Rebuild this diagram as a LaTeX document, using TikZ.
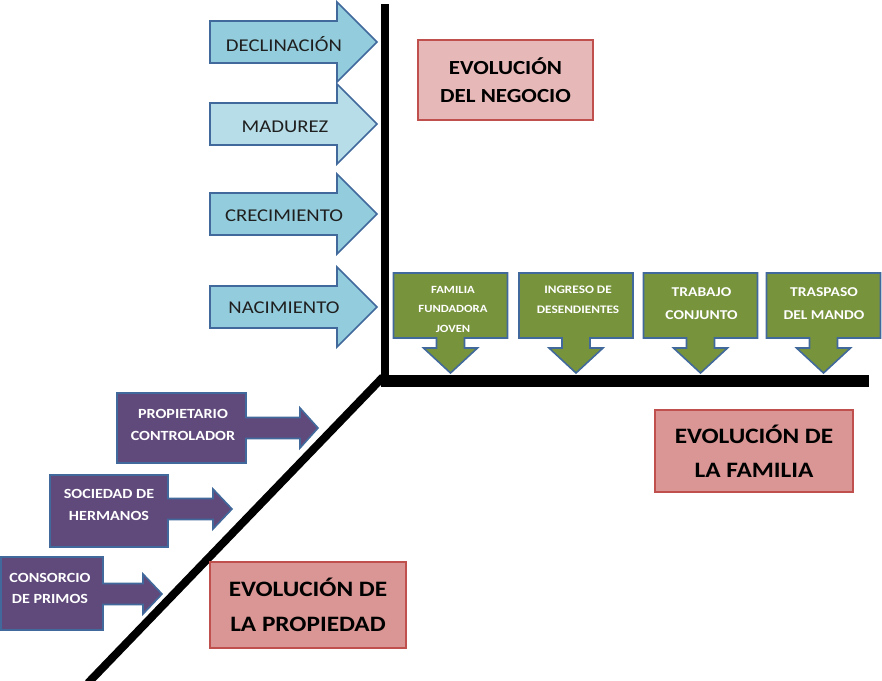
\documentclass[tikz,border=0pt]{standalone}
\usepackage{fontspec}
\setmainfont{Carlito}[FakeStretch=1.15]

\definecolor{phaseblue}{HTML}{93CDDD}
\definecolor{phasebluelight}{HTML}{B7DEE8}
\definecolor{shapeedge}{HTML}{41699C}
\definecolor{stagegreen}{HTML}{77933C}
\definecolor{ownerpurple}{HTML}{604A7B}
\definecolor{titlepink}{HTML}{D99694}
\definecolor{titlepinklight}{HTML}{E6B9B8}
\definecolor{titleedge}{HTML}{C0504D}

\tikzset{
  shapeline/.style={draw=shapeedge, line width=1.6pt, line join=miter},
  vaxis/.style={draw=black, line width=8pt},
  haxis/.style={draw=black, line width=12pt},
  phasetext/.style={anchor=base, inner sep=0pt, text=black!88,
    font=\fontsize{18}{21}\selectfont},
  % multi-line nodes: the base anchor sits on the last line's baseline
  stagetext/.style={anchor=base, inner sep=0pt, align=center, text=white},
  ownertext/.style={anchor=base, inner sep=0pt, align=center, text=white,
    font=\bfseries\fontsize{14}{22}\selectfont},
  titlebox/.style={draw=titleedge, line width=1.6pt, fill=titlepink,
    align=center, inner sep=0pt},
}

\begin{document}
\begin{tikzpicture}[x=1pt, y=-1pt]
\useasboundingbox (0,0) rectangle (882,680);

% ---- axes ----
\coordinate (corner) at (385,381);
\coordinate (bizend) at (385,4);
\coordinate (famstart) at (381,381);
\coordinate (famend) at (869,381);
\coordinate (ownstart) at (383,377);
\coordinate (ownend) at (88,683);
\draw[vaxis] (bizend) -- (corner);
\draw[haxis] (famstart) -- (famend);
\draw[vaxis] (ownstart) -- (ownend);

% ---- business phases: block arrows pointing at the vertical axis ----
\foreach \yc/\col in {42/phaseblue, 124/phasebluelight, 214/phaseblue, 307/phaseblue}{
  \draw[shapeline, fill=\col]
    (210,\yc-21) -- (337,\yc-21) -- (337,\yc-40) -- (377,\yc)
    -- (337,\yc+40) -- (337,\yc+21) -- (210,\yc+21) -- cycle;
}
\node[phasetext] (declinacion) at (284,51)  {DECLINACIÓN};
\node[phasetext] (madurez)     at (285,132) {MADUREZ};
\node[phasetext] (crecimiento) at (284,221) {CRECIMIENTO};
\node[phasetext] (nacimiento)  at (284,313) {NACIMIENTO};

% ---- family stages: boxes with a down arrow onto the horizontal axis ----
\foreach \xc in {450.5, 576, 700.5, 823.5}{
  \draw[shapeline, fill=stagegreen]
    (\xc-57,273) -- (\xc+57,273) -- (\xc+57,338) -- (\xc+14,338)
    -- (\xc+14,348) -- (\xc+27,348) -- (\xc,373) -- (\xc-27,348)
    -- (\xc-14,348) -- (\xc-14,338) -- (\xc-57,338) -- cycle;
}
\node[stagetext, font=\bfseries\fontsize{11}{19.5}\selectfont]
  (fundadora) at (453,332) {FAMILIA\\FUNDADORA\\JOVEN};
\node[stagetext, font=\bfseries\fontsize{11.5}{20}\selectfont]
  (ingreso) at (578,313) {INGRESO DE\\DESENDIENTES};
\node[stagetext, font=\bfseries\fontsize{13.5}{23}\selectfont]
  (trabajo) at (701.5,319) {TRABAJO\\CONJUNTO};
\node[stagetext, font=\bfseries\fontsize{13.5}{23}\selectfont]
  (traspaso) at (824,319) {TRASPASO\\DEL MANDO};

% ---- ownership stages: boxes with a right arrow onto the diagonal axis ----
\foreach \xa/\xb/\ya/\yb/\yc/\hx/\tx in {
    117/246/393/463/428/300/318,
    50/168/475/547/509/213/232,
    1/103/557/630/594/143/162}{
  \draw[shapeline, fill=ownerpurple]
    (\xa,\ya) -- (\xb,\ya) -- (\xb,\yc-10.5) -- (\hx,\yc-10.5) -- (\hx,\yc-20)
    -- (\tx,\yc) -- (\hx,\yc+20) -- (\hx,\yc+10.5) -- (\xb,\yc+10.5)
    -- (\xb,\yb) -- (\xa,\yb) -- cycle;
}
\node[ownertext] (propietario) at (183,440) {PROPIETARIO\\CONTROLADOR};
\node[ownertext] (sociedad)    at (109,520) {SOCIEDAD DE\\HERMANOS};
\node[ownertext, font=\bfseries\fontsize{14}{20.5}\selectfont]
  (consorcio) at (50,603) {CONSORCIO\\DE PRIMOS};

% ---- axis titles ----
\node[titlebox, fill=titlepinklight, minimum width=175pt, minimum height=80pt,
  font=\bfseries\fontsize{20}{28}\selectfont]
  (negocio) at (505.5,80) {EVOLUCIÓN\\DEL NEGOCIO};
\node[titlebox, minimum width=198pt, minimum height=82pt,
  font=\bfseries\fontsize{22}{34}\selectfont]
  (familia) at (754,451) {EVOLUCIÓN DE\\LA FAMILIA};
\node[titlebox, minimum width=196pt, minimum height=86pt,
  font=\bfseries\fontsize{22}{35}\selectfont]
  (propiedad) at (308,605) {EVOLUCIÓN DE\\LA PROPIEDAD};
\end{tikzpicture}
\end{document}
